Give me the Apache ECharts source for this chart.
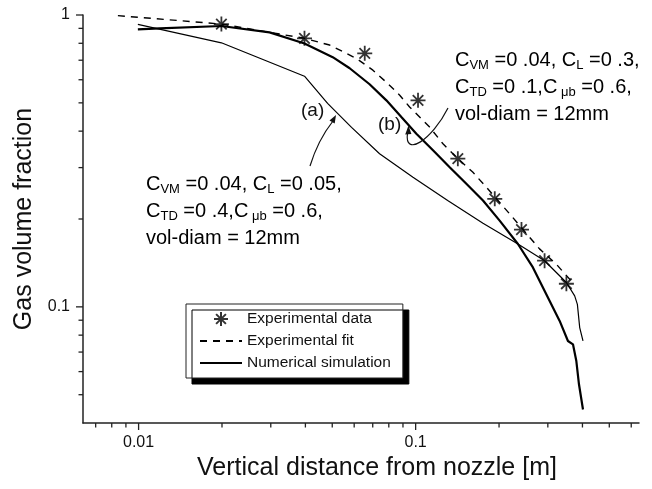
<!DOCTYPE html>
<html>
<head>
<meta charset="utf-8"/>
<title>Gas volume fraction</title>
<script src="https://cdn.jsdelivr.net/npm/echarts@6/dist/echarts.min.js"></script>
<style>
    html, body { margin: 0; padding: 0; background: #fff; }
    #main { width: 652px; height: 489px; }
</style>
</head>
<body>
<div id="main"></div>
<script>
    // experimental data (stars)
    let expX = [0.0199, 0.0397, 0.0655, 0.102, 0.142, 0.193, 0.241, 0.292, 0.350];
    let expY = [0.931, 0.832, 0.739, 0.510, 0.322, 0.2345, 0.184, 0.144, 0.120];

    // experimental fit (dashed)
    let fitX = [0.00842, 0.0199, 0.0397, 0.0489, 0.0611, 0.0701, 0.0794, 0.0876, 0.0951, 0.1123, 0.1255, 0.142, 0.161, 0.180, 0.2184, 0.280, 0.322, 0.369];
    let fitY = [0.995, 0.931, 0.832, 0.789, 0.710, 0.647, 0.582, 0.531, 0.484, 0.413, 0.362, 0.322, 0.289, 0.257, 0.2083, 0.158, 0.140, 0.121];

    // numerical simulation (b) - thick
    let simBX = [0.00994, 0.0119, 0.0199, 0.0297, 0.0397, 0.0502, 0.0578, 0.0682, 0.0784, 0.0888, 0.1006, 0.1155, 0.1327, 0.1524, 0.175, 0.201, 0.234, 0.265, 0.3046, 0.331, 0.3546, 0.3697, 0.3802, 0.3886, 0.4018];
    let simBY = [0.893, 0.900, 0.917, 0.872, 0.799, 0.717, 0.657, 0.579, 0.510, 0.447, 0.392, 0.344, 0.301, 0.264, 0.2313, 0.1975, 0.1642, 0.1365, 0.1048, 0.0895, 0.0764, 0.0744, 0.0652, 0.0543, 0.0445];

    // numerical simulation (a) - thin
    let simAX = [0.00994, 0.0199, 0.0397, 0.0481, 0.0587, 0.0741, 0.0978, 0.1305, 0.175, 0.234, 0.292, 0.350, 0.375, 0.3835, 0.391, 0.4018];
    let simAY = [0.929, 0.803, 0.617, 0.498, 0.412, 0.3348, 0.278, 0.2313, 0.1933, 0.1642, 0.1439, 0.1212, 0.109, 0.102, 0.0849, 0.0764];

    // axis ticks
    let xMajor = [0.01, 0.1];
    let xMinor = [0.007, 0.008, 0.009, 0.02, 0.03, 0.04, 0.05, 0.06, 0.07, 0.08, 0.09, 0.2, 0.3, 0.4, 0.5, 0.6];
    let yMajor = [0.1, 1];
    let yMinor = [0.05, 0.06, 0.07, 0.08, 0.09, 0.2, 0.3, 0.4, 0.5, 0.6, 0.7, 0.8, 0.9];

    let xMin = 0.0063, xMax = 0.64, yMin = 0.04, yMax = 1;

    const FONT = "'Liberation Sans', Arial, Helvetica, sans-serif";
    const INK = '#111';
    const STAR = 'path://M0,-1L0,1M-1,0L1,0M-0.7,-0.7L0.7,0.7M-0.7,0.7L0.7,-0.7';

    function zip(xs, ys) {
        return xs.map(function (x, i) { return [x, ys[i]]; });
    }

    function pow10Label(v) {
        let e = Math.round(Math.log10(v));
        return Math.abs(Math.log10(v) - e) < 1e-6 ? String(Math.pow(10, e)) : '';
    }

    function tickRender(onX) {
        return function (params, api) {
            let p = api.coord([api.value(0), api.value(1)]);
            let len = api.value(2);
            let shape = onX
                ? {x1: p[0], y1: p[1], x2: p[0], y2: p[1] + len}
                : {x1: p[0], y1: p[1], x2: p[0] - len, y2: p[1]};
            return {type: 'line', shape: shape, style: {stroke: '#222', lineWidth: 1.3}};
        };
    }

    let xTickData = xMajor.map(function (v) { return [v, yMin, 7]; })
        .concat(xMinor.map(function (v) { return [v, yMin, 4.5]; }));
    let yTickData = yMajor.map(function (v) { return [xMin, v, 7]; })
        .concat(yMinor.map(function (v) { return [xMin, v, 4.5]; }));

    let rich = {
        m: {fontSize: 20, fontFamily: FONT, color: INK, lineHeight: 27},
        s: {fontSize: 13, fontFamily: FONT, color: INK, lineHeight: 14, padding: [10, 0, 0, 0]}
    };

    // hide the circle that line series put in their legend icon
    let noMark = {color: 'rgba(0,0,0,0)', borderWidth: 0, opacity: 0};

    let myChart = echarts.init(document.getElementById('main'));
    let option = {
        backgroundColor: '#fff',
        animation: false,
        grid: {left: 83, right: 13, top: 15, bottom: 66},
        xAxis: {
            type: 'log',
            logBase: 10,
            min: xMin,
            max: xMax,
            name: 'Vertical distance from nozzle [m]',
            nameLocation: 'middle',
            nameGap: 29,
            nameTextStyle: {fontSize: 25, fontFamily: FONT, color: INK, padding: [0, 0, 0, 32]},
            axisLine: {onZero: false, lineStyle: {color: '#222', width: 1.5}},
            axisTick: {show: false},
            splitLine: {show: false},
            axisLabel: {
                margin: 12, fontSize: 16, fontFamily: FONT, color: INK,
                showMinLabel: false, showMaxLabel: false, formatter: pow10Label
            }
        },
        yAxis: {
            type: 'log',
            logBase: 10,
            min: yMin,
            max: yMax,
            name: 'Gas volume fraction',
            nameLocation: 'middle',
            nameGap: 44,
            nameTextStyle: {fontSize: 25, fontFamily: FONT, color: INK},
            axisLine: {onZero: false, lineStyle: {color: '#222', width: 1.5}},
            axisTick: {show: false},
            splitLine: {show: false},
            axisLabel: {
                margin: 13, fontSize: 16, fontFamily: FONT, color: INK,
                showMinLabel: false, formatter: pow10Label
            }
        },
        legend: {
            orient: 'vertical',
            left: 186,
            top: 304,
            data: [
                {name: 'Experimental data'},
                {name: 'Experimental fit', itemStyle: noMark},
                {name: 'Numerical simulation', itemStyle: noMark}
            ],
            backgroundColor: '#fff',
            borderColor: '#222',
            borderWidth: 1,
            padding: [7, 12, 7, 13],
            itemGap: 6,
            itemWidth: 42,
            itemHeight: 14,
            shadowColor: '#000',
            shadowBlur: 0,
            shadowOffsetX: 6,
            shadowOffsetY: 6,
            textStyle: {fontSize: 15.5, fontFamily: FONT, color: INK}
        },
        series: [
            {
                name: 'Numerical simulation',
                type: 'line',
                data: zip(simBX, simBY),
                symbol: 'none',
                lineStyle: {color: '#000', width: 2.2},
                itemStyle: {color: '#000'},
                z: 3
            },
            {
                name: 'Numerical simulation',
                type: 'line',
                data: zip(simAX, simAY),
                symbol: 'none',
                lineStyle: {color: '#000', width: 1.2},
                itemStyle: {color: '#000'},
                z: 3
            },
            {
                name: 'Experimental fit',
                type: 'line',
                data: zip(fitX, fitY),
                symbol: 'none',
                lineStyle: {color: '#000', width: 1.4, type: [7, 6]},
                itemStyle: {color: '#000'},
                z: 2
            },
            {
                name: 'Experimental data',
                type: 'scatter',
                data: zip(expX, expY),
                symbol: STAR,
                symbolSize: 15,
                itemStyle: {color: '#000', borderColor: '#000', borderWidth: 1.8},
                z: 4
            },
            {
                name: 'xticks',
                type: 'custom',
                silent: true,
                renderItem: tickRender(true),
                data: xTickData,
                z: 5
            },
            {
                name: 'yticks',
                type: 'custom',
                silent: true,
                renderItem: tickRender(false),
                data: yTickData,
                z: 5
            }
        ],
        graphic: [
            {
                type: 'text', left: 455, top: 49, z: 10,
                style: {
                    text: '{m|C}{s|VM}{m| =0 .04, C}{s|L}{m| =0 .3,}\n{m|C}{s|TD}{m| =0 .1,C}{s| μb}{m| =0 .6,}\n{m|vol-diam = 12mm}',
                    rich: rich
                }
            },
            {
                type: 'text', left: 146, top: 173, z: 10,
                style: {
                    text: '{m|C}{s|VM}{m| =0 .04, C}{s|L}{m| =0 .05,}\n{m|C}{s|TD}{m| =0 .4,C}{s| μb}{m| =0 .6,}\n{m|vol-diam = 12mm}',
                    rich: rich
                }
            },
            {
                type: 'text', left: 301, top: 101, z: 10,
                style: {text: '(a)', fontSize: 19, fontFamily: FONT, fill: INK}
            },
            {
                type: 'text', left: 378, top: 115, z: 10,
                style: {text: '(b)', fontSize: 19, fontFamily: FONT, fill: INK}
            },
            {
                type: 'bezierCurve', z: 10,
                shape: {x1: 310, y1: 166, cpx1: 318, cpy1: 140, x2: 333, y2: 121},
                style: {stroke: INK, lineWidth: 1.2, fill: null}
            },
            {
                type: 'polygon', z: 10,
                shape: {points: [[336, 115], [334.7, 123.5], [329.5, 120.5]]},
                style: {fill: INK}
            },
            {
                type: 'bezierCurve', z: 10,
                shape: {x1: 448, y1: 108, cpx1: 432, cpy1: 140, cpx2: 404, cpy2: 158, x2: 407.5, y2: 133},
                style: {stroke: INK, lineWidth: 1.2, fill: null}
            },
            {
                type: 'polygon', z: 10,
                shape: {points: [[408.5, 125.5], [405.2, 134.5], [411.4, 134]]},
                style: {fill: INK}
            }
        ]
    };
    myChart.setOption(option);
</script>
</body>
</html>
